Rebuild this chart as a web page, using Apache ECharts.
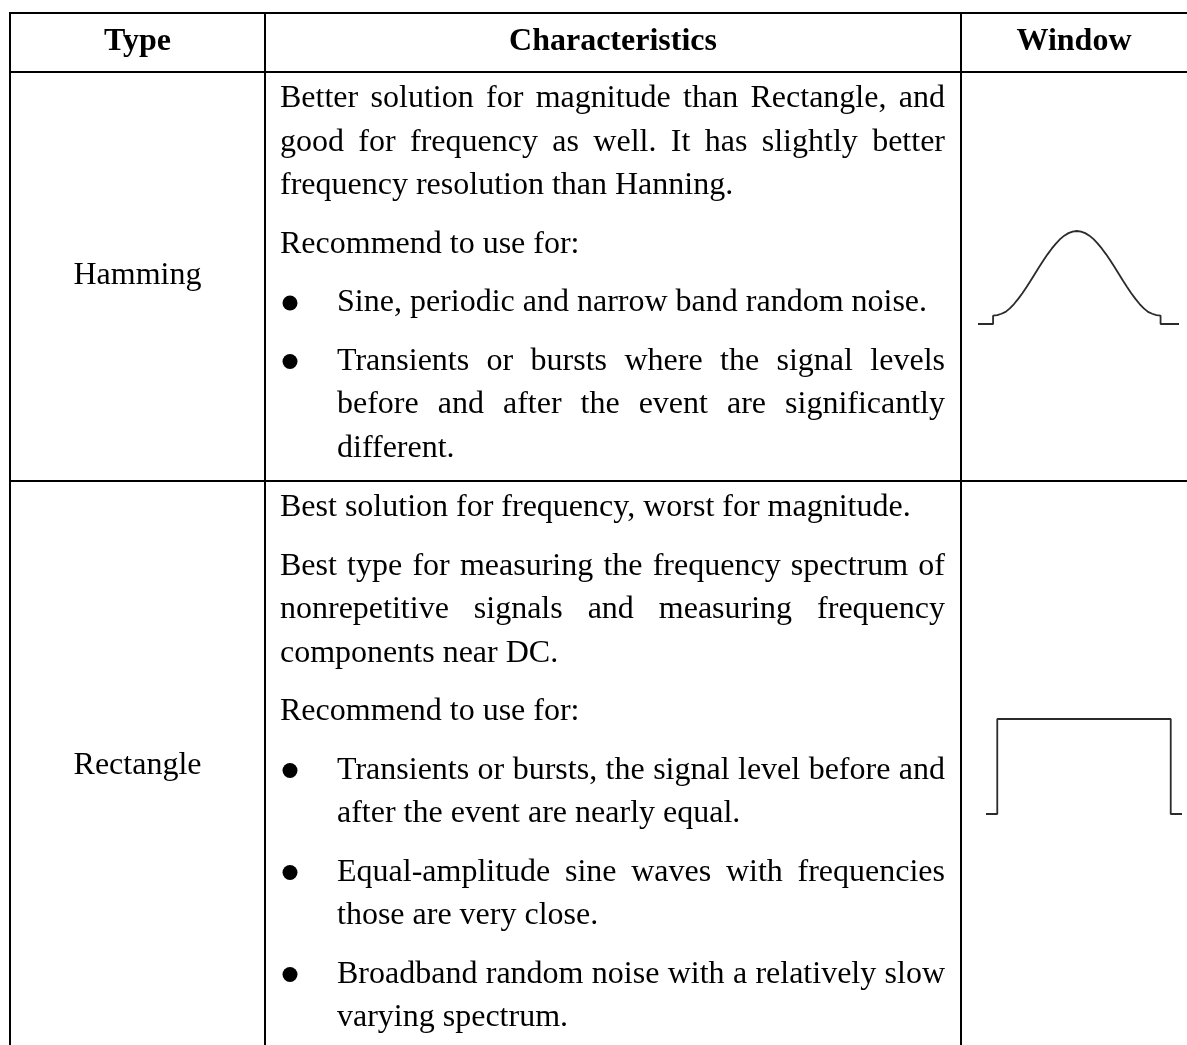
<!DOCTYPE html>
<html><head><meta charset="utf-8">
<script src="https://cdn.jsdelivr.net/npm/echarts@6/dist/echarts.min.js"></script>
<style>html,body{margin:0;padding:0;background:#fff}#main{width:1187px;height:1045px}</style>
</head><body><div id="main"></div>
<script>
// ---------- data ----------
const headers = ['Type', 'Characteristics', 'Window'];
const types = ['Hamming', 'Rectangle'];
const hammingParas = [
  { bullet: false, lines: ['Better solution for magnitude than Rectangle, and', 'good for frequency as well. It has slightly better', 'frequency resolution than Hanning.'] },
  { bullet: false, lines: ['Recommend to use for:'] },
  { bullet: true, lines: ['Sine, periodic and narrow band random noise.'] },
  { bullet: true, lines: ['Transients or bursts where the signal levels', 'before and after the event are significantly', 'different.'] }
];
const rectangleParas = [
  { bullet: false, lines: ['Best solution for frequency, worst for magnitude.'] },
  { bullet: false, lines: ['Best type for measuring the frequency spectrum of', 'nonrepetitive signals and measuring frequency', 'components near DC.'] },
  { bullet: false, lines: ['Recommend to use for:'] },
  { bullet: true, lines: ['Transients or bursts, the signal level before and', 'after the event are nearly equal.'] },
  { bullet: true, lines: ['Equal-amplitude sine waves with frequencies', 'those are very close.'] },
  { bullet: true, lines: ['Broadband random noise with a relatively slow', 'varying spectrum.'] }
];
// window shapes (x: 0..1 across the window, y: relative amplitude)
const hammingX = [0, 0.025, 0.05, 0.075, 0.1, 0.125, 0.15, 0.175, 0.2, 0.225, 0.25, 0.275, 0.3, 0.325, 0.35, 0.375, 0.4, 0.425, 0.45, 0.475, 0.5,
  0.525, 0.55, 0.575, 0.6, 0.625, 0.65, 0.675, 0.7, 0.725, 0.75, 0.775, 0.8, 0.825, 0.85, 0.875, 0.9, 0.925, 0.95, 0.975, 1];
const hammingY = [0.09, 0.095, 0.11, 0.13, 0.168, 0.215, 0.27, 0.331, 0.398, 0.468, 0.54, 0.612, 0.682, 0.749, 0.81, 0.865, 0.912, 0.95, 0.977, 0.994, 1.0,
  0.994, 0.977, 0.95, 0.912, 0.865, 0.81, 0.749, 0.682, 0.612, 0.54, 0.468, 0.398, 0.331, 0.27, 0.215, 0.168, 0.13, 0.11, 0.095, 0.09];
const hammingFeet = [[-0.09, 0], [0, 0], [1, 0], [1.11, 0]];
const rectX = [-0.065, 0, 0, 1, 1, 1.065];
const rectY = [0, 0, 1, 1, 0, 0];

// ---------- layout ----------
const FONT_SIZE = 32;
const BODY_FONT = FONT_SIZE + 'px "Liberation Serif"';
const HEAD_FONT = 'bold ' + FONT_SIZE + 'px "Liberation Serif"';
const colX = [10, 265, 961, 1187];
const rowY = [13, 72, 481, 1045];
const LINE = 43.5, PARA = 58.5;
const textLeft = 280, bulletTextLeft = 337, bulletX = 290, textRight = 945;

const mctx = document.createElement('canvas').getContext('2d');
function measure(s, font) { mctx.font = font; return mctx.measureText(s).width; }

const graphics = [];
function T(str, x, y, font, align) {
  graphics.push({ type: 'text', z: 10, silent: true,
    style: { text: str, x: x, y: y, font: font, fill: '#000', textAlign: align || 'left', align: align || 'left',
      textVerticalAlign: 'middle', verticalAlign: 'middle' } });
}
function L(x1, y1, x2, y2) {
  graphics.push({ type: 'line', z: 20, silent: true, shape: { x1, y1, x2, y2 }, style: { stroke: '#000', lineWidth: 2 } });
}
function line(str, x0, x1, y, justify) {
  if (!justify) { T(str, x0, y, BODY_FONT); return; }
  const words = str.split(' ');
  const ws = words.map(w => measure(w, BODY_FONT));
  const total = ws.reduce((a, b) => a + b, 0);
  const gap = (x1 - x0 - total) / (words.length - 1);
  let x = x0;
  words.forEach((w, i) => { T(w, x, y, BODY_FONT); x += ws[i] + gap; });
}
function paras(list, y0) {
  let y = y0;
  list.forEach((p, pi) => {
    if (pi > 0) y += PARA - LINE;
    const left = p.bullet ? bulletTextLeft : textLeft;
    if (p.bullet) {
      graphics.push({ type: 'circle', z: 10, silent: true, shape: { cx: bulletX, cy: y, r: 7.5 }, style: { fill: '#000' } });
    }
    p.lines.forEach((s, li) => {
      line(s, left, textRight, y, li < p.lines.length - 1);
      y += LINE;
    });
  });
}

// table rules
L(colX[0], rowY[0], colX[3], rowY[0]);
L(colX[0], rowY[1], colX[3], rowY[1]);
L(colX[0], rowY[2], colX[3], rowY[2]);
[0, 1, 2].forEach(i => L(colX[i], rowY[0] - 1, colX[i], rowY[3]));

// header
headers.forEach((h, i) => T(h, (colX[i] + colX[i + 1]) / 2, (rowY[0] + rowY[1]) / 2 - 1, HEAD_FONT, 'center'));
// type column
T(types[0], (colX[0] + colX[1]) / 2, 276, BODY_FONT, 'center');
T(types[1], (colX[0] + colX[1]) / 2, 766, BODY_FONT, 'center');
// characteristics
paras(hammingParas, 99);
paras(rectangleParas, 508);

const hammingData = [hammingFeet[0], hammingFeet[1]]
  .concat(hammingX.map((x, i) => [x, hammingY[i]]))
  .concat([hammingFeet[2], hammingFeet[3]]);
const rectData = rectX.map((x, i) => [x, rectY[i]]);

const chart = echarts.init(document.getElementById('main'));
chart.setOption({
  animation: false,
  backgroundColor: '#fff',
  grid: [
    { left: 978, top: 231, width: 201, height: 93, containLabel: false },
    { left: 986, top: 719, width: 196, height: 95, containLabel: false }
  ],
  xAxis: [
    { type: 'value', gridIndex: 0, min: -0.09, max: 1.11, show: false },
    { type: 'value', gridIndex: 1, min: -0.065, max: 1.065, show: false }
  ],
  yAxis: [
    { type: 'value', gridIndex: 0, min: 0, max: 1, show: false },
    { type: 'value', gridIndex: 1, min: 0, max: 1, show: false }
  ],
  series: [
    { type: 'line', xAxisIndex: 0, yAxisIndex: 0, data: hammingData, showSymbol: false, symbol: 'none',
      lineStyle: { color: '#2b2b2b', width: 1.8 }, smooth: false },
    { type: 'line', xAxisIndex: 1, yAxisIndex: 1, data: rectData, showSymbol: false, symbol: 'none',
      lineStyle: { color: '#2b2b2b', width: 1.8 } }
  ],
  graphic: graphics
});
</script></body></html>
